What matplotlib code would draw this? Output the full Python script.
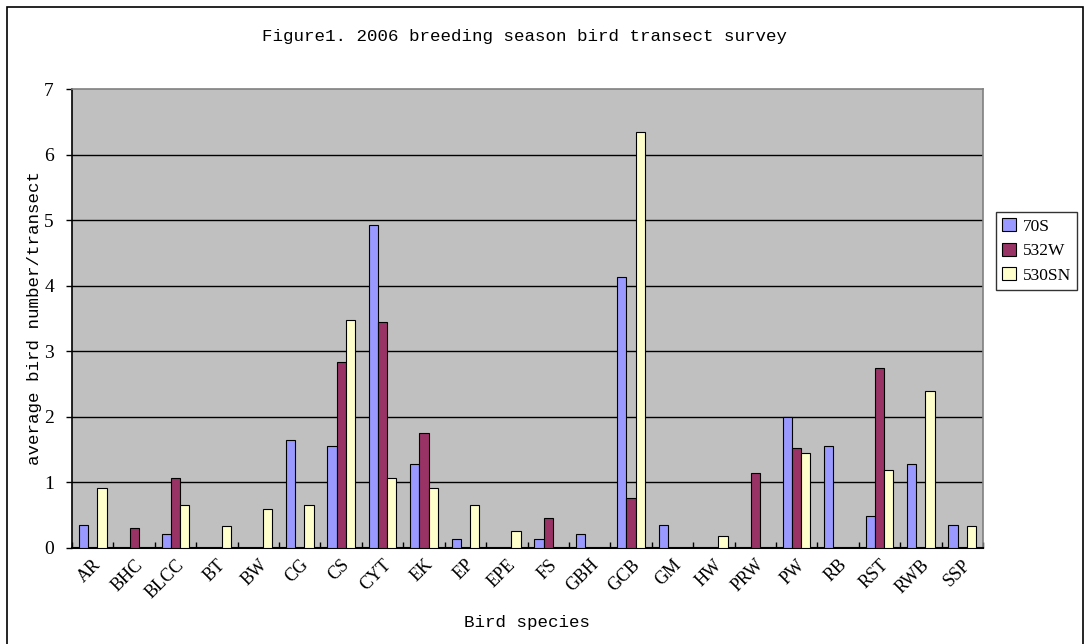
import numpy as np
import matplotlib
matplotlib.use("Agg")
import matplotlib.pyplot as plt
from matplotlib.patches import Rectangle, Patch

plt.rcParams['font.family'] = ['Liberation Mono', 'DejaVu Sans Mono']

species = ['AR', 'BHC', 'BLCC', 'BT', 'BW', 'CG', 'CS', 'CYT', 'EK', 'EP', 'EPE',
           'FS', 'GBH', 'GCB', 'GM', 'HW', 'PRW', 'PW', 'RB', 'RST', 'RWB', 'SSP']
s70 = [0.35, 0, 0.21, 0, 0, 1.64, 1.56, 4.92, 1.28, 0.13, 0,
       0.13, 0.21, 4.14, 0.35, 0, 0, 2.0, 1.56, 0.49, 1.28, 0.35]
w532 = [0, 0.3, 1.06, 0, 0, 0, 2.84, 3.44, 1.76, 0, 0,
        0.45, 0, 0.76, 0, 0, 1.15, 1.52, 0, 2.75, 0, 0]
sn530 = [0.92, 0, 0.65, 0.33, 0.6, 0.65, 3.47, 1.06, 0.92, 0.65, 0.26,
         0, 0, 6.34, 0, 0.19, 0, 1.45, 0, 1.19, 2.39, 0.33]

series = [('70S', s70, '#9999FF'),
          ('532W', w532, '#993366'),
          ('530SN', sn530, '#FFFFCC')]

fig = plt.figure(figsize=(10.88, 6.44), dpi=100)
ax = fig.add_axes([72/1088, 1-548/644, 911/1088, 459/644])
ax.set_facecolor('#C0C0C0')

x = np.arange(len(species)) + 0.5
w = 1/4.5
handles = []
for k, (name, vals, col) in enumerate(series):
    b = ax.bar(x + (k-1)*w, vals, width=w, color=col, edgecolor='black',
               linewidth=0.8, zorder=3)
    # empty cells get no bar at all
    for p, v in zip(b.patches, vals):
        if v == 0:
            p.set_visible(False)
    handles.append(Patch(facecolor=col, edgecolor='black', linewidth=0.8, label=name))

ax.set_xlim(0, len(species))
ax.set_ylim(0, 7)
ax.set_yticks(range(8))
for yv in range(1, 7):
    ax.axhline(yv, color='black', linewidth=1, zorder=1)

ax.set_xticks(x)
ax.set_xticklabels(species, rotation=45, ha='right', va='top',
                   rotation_mode='anchor', fontsize=13, family='Liberation Serif')
ax.tick_params(axis='x', which='major', length=0, pad=6)
ax.set_xticks(np.arange(len(species)+1), minor=True)
ax.tick_params(axis='x', which='minor', direction='in', length=4, width=1)
ax.tick_params(axis='y', direction='out', length=4, width=1, labelsize=14, pad=9)
for lbl in ax.get_yticklabels():
    lbl.set_family('Liberation Serif')

for side in ['top', 'right']:
    ax.spines[side].set_color('#808080')
    ax.spines[side].set_linewidth(1.2)
ax.spines['left'].set_linewidth(1.2)
ax.spines['bottom'].set_linewidth(1.5)

fig.text(525/1088, 1-37/644, 'Figure1. 2006 breeding season bird transect survey',
         ha='center', va='center', fontsize=12.6)
fig.text(527/1088, 1-622/644, 'Bird species', ha='center', va='center', fontsize=12.6)
fig.text(35/1088, 1-318/644, 'average bird number/transect', ha='center', va='center',
         rotation=90, fontsize=12.6)

leg = fig.legend(handles=handles, loc='upper left', bbox_to_anchor=(996/1088, 1-212/644),
                 frameon=True, fancybox=False, edgecolor='black', fontsize=12.5,
                 handlelength=0.8, handleheight=0.8, handletextpad=0.4,
                 borderpad=0.35, labelspacing=0.45, borderaxespad=0)
leg.get_frame().set_linewidth(1)
for t in leg.get_texts():
    t.set_family('Liberation Serif')

fig.patches.append(Rectangle((7/1088, -0.01), 1076/1088, 1.01-7/644,
                             transform=fig.transFigure, fill=False,
                             edgecolor='black', linewidth=1.2))

fig.savefig('out.png', dpi=100)
